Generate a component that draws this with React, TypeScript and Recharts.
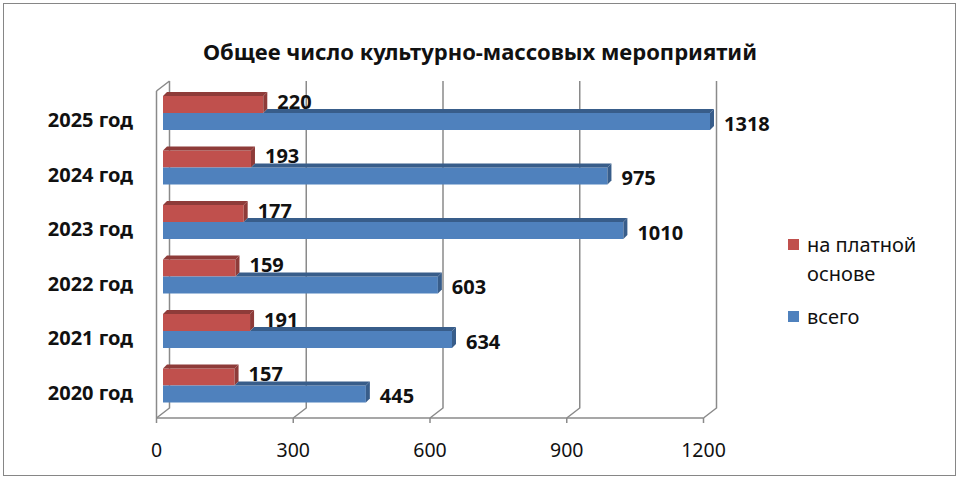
import React from 'react';
import { BarChart, Bar, XAxis, YAxis, CartesianGrid, LabelList } from 'recharts';

// Общее число культурно-массовых мероприятий по годам
const categories = ['2025 год', '2024 год', '2023 год', '2022 год', '2021 год', '2020 год'];
const paidValues = [220, 193, 177, 159, 191, 157];
const totalValues = [1318, 975, 1010, 603, 634, 445];
const xTicks = [0, 300, 600, 900, 1200];
const series = [
  { key: 'paid', name: 'на платной основе', color: '#C0504D', dark: '#8E3B39' },
  { key: 'total', name: 'всего', color: '#4F81BD', dark: '#385D8A' },
];

const AXIS_MAX = 1200;
const FONT = '"Noto Sans", "Open Sans", sans-serif';
const GRID = '#8a8a8a';
const DX = 6.5; // half depth of the 3D box
const DY = 5;
const BAR_D = 4; // depth of each bar

const data = categories.map((year, i) => ({
  year,
  paid: paidValues[i],
  total: totalValues[i],
}));

// excel clips bars at the fixed axis maximum
const cappedTotal = (d: any) => Math.min(d.total, AXIS_MAX);

const Bar3D = (props: any) => {
  const { x, y, width, height, fill, dark, payload, hideTopUntil } = props;
  if (!width || width <= 0) return null;
  let topStart = x;
  if (hideTopUntil) {
    topStart = x + (width * payload.paid) / Math.min(payload.total, AXIS_MAX);
  }
  return (
    <g>
      <rect x={x} y={y} width={width} height={height} fill={fill} />
      <polygon
        points={`${topStart},${y} ${topStart + BAR_D},${y - BAR_D} ${x + width + BAR_D},${y - BAR_D} ${x + width},${y}`}
        fill={dark}
      />
      <polygon
        points={`${x + width},${y} ${x + width + BAR_D},${y - BAR_D} ${x + width + BAR_D},${y + height - BAR_D} ${x + width},${y + height}`}
        fill={dark}
      />
    </g>
  );
};

const GridLine = (props: any) => {
  const { x1, y1, y2, index } = props;
  const bx = x1 + DX;
  const fx = x1 - DX;
  let d = `M${bx},${y1 - DY} L${bx},${y2 - DY} L${fx},${y2 + DY}`;
  if (index === 0) d += ` M${fx},${y1 + DY} L${bx},${y1 - DY}`;
  return <path key={props.key} d={d} stroke={GRID} strokeWidth={1.5} fill="none" />;
};

const XTick = (props: any) => {
  const { x, y, payload } = props;
  return (
    <text x={x - DX} y={y + 37} textAnchor="middle" fontFamily={FONT} fontSize={19.5} fill="#111">
      {payload.value}
    </text>
  );
};

const YTick = (props: any) => {
  const { x, y, payload } = props;
  return (
    <text x={x - 30} y={y + 14} textAnchor="end" fontFamily={FONT} fontSize={20} fontWeight="bold" fill="#111">
      {payload.value}
    </text>
  );
};

const makeValueLabel = (dy: number) => (props: any) => {
  const { x, y, width, height, value } = props;
  return (
    <text
      x={x + width + BAR_D + 10}
      y={y + height / 2 + dy}
      textAnchor="start"
      fontFamily={FONT}
      fontSize={20}
      fontWeight="bold"
      fill="#111"
    >
      {value}
    </text>
  );
};

export default function App() {
  return (
    <div style={{ position: 'absolute', left: 0, top: 0, width: 960, height: 480, background: '#fff', fontFamily: FONT }}>
      <div
        style={{
          position: 'absolute',
          left: 3,
          top: 3,
          width: 953,
          height: 473,
          border: '1px solid #868686',
          boxSizing: 'border-box',
        }}
      />
      <div
        style={{
          position: 'absolute',
          left: 0,
          width: 960,
          top: 36,
          textAlign: 'center',
          fontSize: 22,
          fontWeight: 'bold',
          color: '#111',
        }}
      >
        Общее число культурно-массовых мероприятий
      </div>

      <div style={{ position: 'absolute', left: 0, top: 0 }}>
        <BarChart
          width={960}
          height={480}
          data={data}
          layout="vertical"
          margin={{ top: 86, right: 250, bottom: 0, left: 0 }}
          barGap={0}
          barSize={17}
        >
          <CartesianGrid horizontal={false} vertical={GridLine} />
          <XAxis
            type="number"
            domain={[0, AXIS_MAX]}
            ticks={xTicks}
            height={67}
            interval={0}
            tickSize={5}
            tick={XTick}
            axisLine={{ stroke: GRID, strokeWidth: 1.5, transform: `translate(${-DX} ${DY})` }}
            tickLine={{ stroke: GRID, strokeWidth: 1.5, transform: `translate(${-DX} ${DY})` }}
          />
          <YAxis
            type="category"
            dataKey="year"
            width={163}
            tickSize={0}
            tickMargin={0}
            tick={YTick}
            axisLine={{ stroke: GRID, strokeWidth: 1.5, transform: `translate(${-DX} ${DY})` }}
            tickLine={false}
          />
          <Bar
            dataKey="paid"
            name={series[0].name}
            fill={series[0].color}
            isAnimationActive={false}
            shape={(p: any) => <Bar3D {...p} fill={series[0].color} dark={series[0].dark} />}
          >
            <LabelList dataKey="paid" content={makeValueLabel(4)} />
          </Bar>
          <Bar
            dataKey={cappedTotal}
            name={series[1].name}
            fill={series[1].color}
            isAnimationActive={false}
            shape={(p: any) => <Bar3D {...p} fill={series[1].color} dark={series[1].dark} hideTopUntil />}
          >
            <LabelList dataKey="total" content={makeValueLabel(9)} />
          </Bar>
        </BarChart>
      </div>

      {/* legend */}
      <div style={{ position: 'absolute', left: 788, top: 230, width: 165, fontSize: 20, color: '#111', lineHeight: '29px' }}>
        {series.map((s, i) => (
          <div key={s.key} style={{ display: 'flex', alignItems: 'flex-start', marginBottom: i === 0 ? 14 : 0 }}>
            <div style={{ width: 11, height: 11, background: s.color, marginTop: 9, marginRight: 8, flexShrink: 0 }} />
            <div style={{ width: 140 }}>{s.name}</div>
          </div>
        ))}
      </div>
    </div>
  );
}
